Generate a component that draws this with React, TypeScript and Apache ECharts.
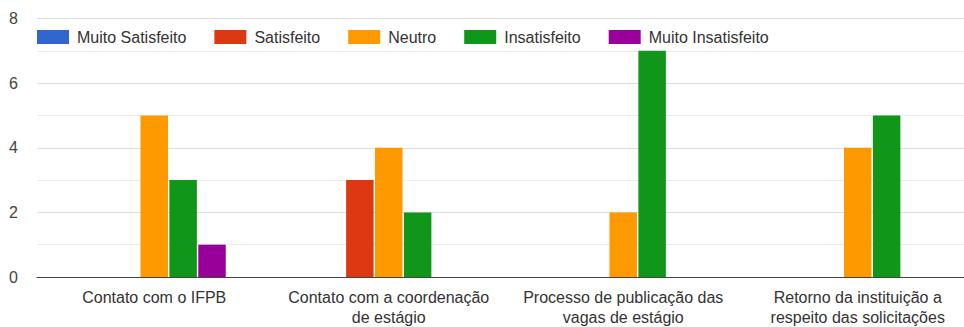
import React, { useEffect, useRef } from "react";
import * as echarts from "echarts";

const categories = [
  "Contato com o IFPB",
  "Contato com a coordenação\nde estágio",
  "Processo de publicação das\nvagas de estágio",
  "Retorno da instituição a\nrespeito das solicitações",
];

const seriesNames = [
  "Muito Satisfeito",
  "Satisfeito",
  "Neutro",
  "Insatisfeito",
  "Muito Insatisfeito",
];

const muitoSatisfeito = [0, 0, 0, 0];
const satisfeito = [0, 3, 0, 0];
const neutro = [5, 4, 2, 4];
const insatisfeito = [3, 2, 7, 5];
const muitoInsatisfeito = [1, 0, 0, 0];

const yTicks = { min: 0, max: 8, interval: 2 };

const colors = ["#3366cc", "#dc3912", "#ff9900", "#109618", "#990099"];

export default function App() {
  const ref = useRef<HTMLDivElement>(null);

  useEffect(() => {
    document.body.style.margin = "0";
    document.body.style.overflow = "hidden";
    const chart = echarts.init(ref.current!, undefined, { renderer: "svg" });
    const values = [muitoSatisfeito, satisfeito, neutro, insatisfeito, muitoInsatisfeito];
    const font = "Arial, 'Liberation Sans', sans-serif";

    chart.setOption({
      animation: false,
      color: colors,
      textStyle: { fontFamily: font },
      legend: {
        left: 37,
        top: 29,
        padding: 0,
        itemWidth: 32,
        itemHeight: 14,
        itemGap: 28,
        icon: "rect",
        data: seriesNames,
        textStyle: {
          fontSize: 16,
          color: "#333",
          fontFamily: font,
          padding: [0, 0, 0, 3],
        },
      },
      // plot area runs a little past the visible right edge
      grid: { left: 37, right: 1, top: 18.5, bottom: 50, containLabel: false },
      xAxis: {
        type: "category",
        data: categories,
        axisTick: { show: false },
        axisLine: { lineStyle: { color: "#444", width: 1.2 } },
        axisLabel: {
          interval: 0,
          margin: 10,
          fontSize: 16,
          lineHeight: 20,
          color: "#333",
          fontFamily: font,
        },
      },
      yAxis: {
        type: "value",
        min: yTicks.min,
        max: yTicks.max,
        interval: yTicks.interval,
        axisLine: { show: false },
        axisTick: { show: false },
        axisLabel: {
          margin: 19,
          fontSize: 16,
          color: "#444",
          fontFamily: font,
        },
        splitLine: { lineStyle: { color: "#dcdcdc", width: 1 } },
        minorTick: { show: false, splitNumber: 2 },
        minorSplitLine: { show: true, lineStyle: { color: "#ececec", width: 1 } },
      },
      series: seriesNames.map((name, i) => ({
        name,
        type: "bar",
        data: values[i],
        barWidth: 27.5,
        barGap: "5%",
        itemStyle: { color: colors[i] },
      })),
    });

    return () => chart.dispose();
  }, []);

  return (
    <div
      ref={ref}
      style={{ position: "absolute", left: 0, top: 0, width: 976, height: 327 }}
    />
  );
}
